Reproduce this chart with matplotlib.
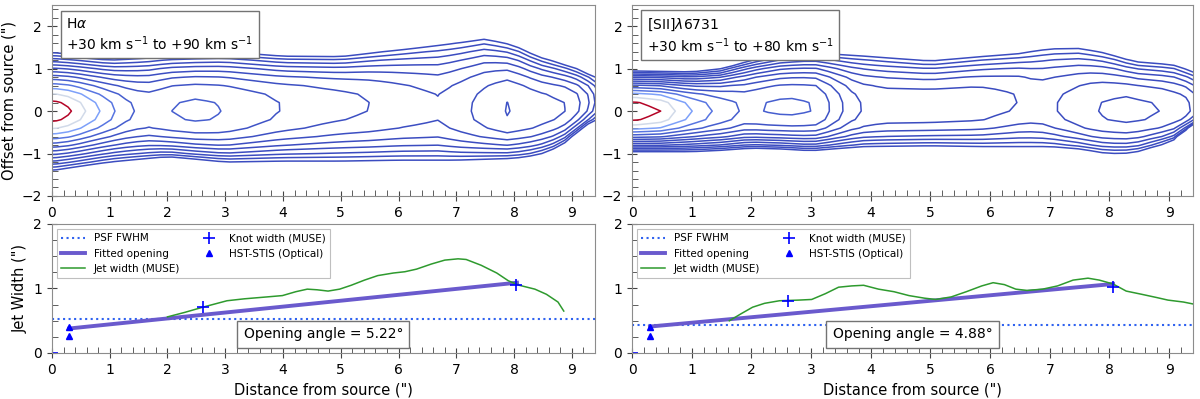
import matplotlib.pyplot as plt
import numpy as np
from matplotlib.ticker import MultipleLocator

# ---- H-alpha channel map: jet profile ----
# peak contour level along the jet axis (level 1 = outermost contour)
ha_axis_x = [0, 0.37, 0.57, 0.83, 1.09, 1.38, 1.7, 2.07, 2.5, 2.96, 3.94, 4.64, 5.5, 6.1, 6.7, 7.26, 7.88, 8.9, 9.19, 9.3, 9.4, 9.7]
ha_peak = [13.9, 13, 12, 11, 10, 9, 8.6, 9, 9.2, 9, 8, 7.5, 7, 6.5, 6.1, 7, 8.05, 7, 6, 5, 4, 1]
# outer contour edges, ridge centre and profile exponent
ha_edge_x = [0, 1, 2, 3, 4, 5, 6, 7, 7.5, 8, 8.4, 8.8, 9.15, 9.4, 9.8]
ha_top = [1.38, 1.27, 1.36, 1.40, 1.30, 1.29, 1.44, 1.6, 1.7, 1.55, 1.29, 1.13, 0.97, 0.8, 0.5]
ha_bot = [-1.40, -1.2, -1.08, -1.2, -1.18, -1.18, -1.16, -1.16, -1.14, -1.12, -1.04, -0.84, -0.45, -0.2, 0.0]
ha_mid = [0, 0, 0, 0, 0.1, 0.17, 0.12, 0, 0, 0, 0, 0.05, 0.15, 0.2, 0.2]
ha_expo = [1.6, 2.0, 2.5, 2.5, 2.5, 2.5, 2.5, 2.5, 2.5, 2.5, 2.5, 2.5, 2.5, 2.5, 2.5]

# ---- [SII] 6731 channel map ----
sii_axis_x = [0, 0.48, 0.72, 1.0, 1.33, 1.79, 1.95, 2.13, 2.6, 3.07, 3.31, 3.53, 3.78, 4.2, 5.0, 5.8, 6.46, 6.8, 7.13, 7.77, 8.3, 8.86, 9.2, 9.4, 9.7]
sii_peak = [14.8, 14, 13, 12, 11, 10, 9.7, 10, 10.2, 10, 9, 8, 7, 6.6, 6.6, 6.5, 6, 5.6, 6, 7, 7.3, 7, 6.5, 6.2, 3]
sii_edge_x = [0, 1, 1.5, 2, 2.5, 3, 3.9, 5, 5.85, 6.5, 7, 7.5, 7.96, 8.4, 9.05, 9.4, 9.8]
sii_top = [0.95, 0.93, 1.0, 1.2, 1.33, 1.38, 1.30, 1.18, 1.29, 1.36, 1.47, 1.48, 1.36, 1.17, 1.1, 0.93, 0.7]
sii_bot = [-0.96, -0.96, -0.93, -0.88, -0.9, -0.94, -0.84, -0.82, -0.84, -0.84, -0.84, -0.9, -1.0, -0.99, -0.72, -0.33, 0.0]
sii_mid = [0, 0, 0, 0.05, 0.07, 0.07, 0.05, 0.08, 0.15, 0.25, 0.1, 0, 0, 0, 0, 0, 0]
sii_expo = [2.0, 2.2, 2.4, 2.5, 2.5, 2.5, 2.5, 2.5, 2.5, 2.5, 2.5, 2.5, 2.5, 2.5, 2.5, 2.5, 2.5]

# ---- jet width panels ----
ha_psf = 0.52
ha_fit_x = [0.3, 8.05]
ha_fit_w = [0.38, 1.09]
ha_knot_x = [0.0, 2.61, 8.04]
ha_knot_w = [0.0, 0.71, 1.05]
ha_hst_x = [0.3, 0.3]
ha_hst_w = [0.41, 0.27]
ha_jet_x = [2.0, 2.3, 2.61, 3.03, 3.33, 3.73, 3.99, 4.22, 4.42, 4.59, 4.78, 4.98, 5.18, 5.41, 5.64, 5.91,
            6.11, 6.31, 6.57, 6.8, 7.03, 7.17, 7.43, 7.7, 7.9, 8.09, 8.36, 8.56, 8.76, 8.86]
ha_jet_w = [0.56, 0.63, 0.71, 0.81, 0.84, 0.87, 0.89, 0.95, 0.99, 0.98, 0.96, 0.99, 1.05, 1.13, 1.2, 1.24,
            1.26, 1.30, 1.38, 1.44, 1.46, 1.45, 1.36, 1.24, 1.12, 1.05, 0.99, 0.91, 0.79, 0.65]
ha_angle = "Opening angle = 5.22°"

sii_psf = 0.43
sii_fit_x = [0.3, 8.06]
sii_fit_w = [0.41, 1.07]
sii_knot_x = [0.0, 2.61, 8.06]
sii_knot_w = [0.0, 0.805, 1.02]
sii_hst_x = [0.3, 0.3]
sii_hst_w = [0.41, 0.26]
sii_jet_x = [1.63, 1.83, 2.02, 2.22, 2.47, 2.79, 3.01, 3.24, 3.46, 3.68, 3.88, 4.13, 4.39, 4.64, 4.9, 5.09,
             5.35, 5.6, 5.86, 6.05, 6.24, 6.43, 6.62, 6.88, 7.13, 7.39, 7.64, 7.83, 8.06, 8.28, 8.54, 8.79,
             8.98, 9.24, 9.4]
sii_jet_w = [0.5, 0.61, 0.71, 0.77, 0.81, 0.82, 0.83, 0.92, 1.02, 1.04, 1.05, 0.99, 0.95, 0.89, 0.85, 0.83,
             0.87, 0.95, 1.04, 1.09, 1.06, 0.99, 0.97, 0.99, 1.04, 1.13, 1.16, 1.13, 1.07, 0.96, 0.91, 0.86,
             0.82, 0.79, 0.76]
sii_angle = "Opening angle = 4.88°"

ha_title = "H$\\alpha$\n+30 km s$^{-1}$ to +90 km s$^{-1}$"
sii_title = "[SII]$\\lambda$6731\n+30 km s$^{-1}$ to +80 km s$^{-1}$"

SPINE = '#8c8c8c'


def jet_map(axis_x, peak, edge_x, top, bot, mid, expo):
    # coarse 0.2" grid, like the MUSE spaxels
    xg = np.arange(-0.12, 9.9, 0.2)
    yg = np.arange(-2.0, 2.61, 0.2)
    P = np.interp(xg, axis_x, peak)
    t = np.interp(xg, edge_x, top)
    b = np.interp(xg, edge_x, bot)
    c = np.interp(xg, edge_x, mid)
    p = np.interp(xg, edge_x, expo)
    X, Y = np.meshgrid(xg, yg)
    d = np.where(Y >= c, (Y - c) / (t - c), (c - Y) / (c - b))
    g = d ** p
    F = P - np.maximum(P - 1, 0.3) * g
    return X, Y, F


def style(ax, ymaj, ymin):
    for s in ax.spines.values():
        s.set_color(SPINE)
    ax.xaxis.set_major_locator(MultipleLocator(1))
    ax.xaxis.set_minor_locator(MultipleLocator(0.2))
    ax.yaxis.set_major_locator(MultipleLocator(ymaj))
    ax.yaxis.set_minor_locator(MultipleLocator(ymin))
    ax.tick_params(which='major', direction='inout', length=7, labelsize=10, color='#444444')
    ax.tick_params(which='minor', direction='in', length=4, color='#444444')
    ax.set_xlim(0, 9.4)


def draw_map(ax, X, Y, F, nlev, title):
    levels = np.arange(1, nlev + 1)
    inten = 2.2 ** levels
    frac = (inten - inten[0]) / (inten[-1] - inten[0])
    cols = plt.cm.coolwarm(frac)
    ax.contour(X, Y, F, levels=levels, colors=cols, linewidths=1.1)
    ax.set_ylim(-2, 2.5)
    style(ax, 1, 0.2)
    ax.text(0.25, 2.22, title, fontsize=10, va='top', ha='left',
            bbox=dict(boxstyle='square,pad=0.4', fc='white', ec='0.45', lw=1))


def draw_width(ax, psf, fx, fw, kx, kw, hx, hw, jx, jw, angle):
    ax.axhline(psf, color='#2f62f0', ls=':', lw=1.5, label='PSF FWHM')
    ax.plot(fx, fw, color='#6a5acd', lw=2.8, label='Fitted opening')
    ax.plot(jx, jw, color='#2e9a2e', lw=1.1, label='Jet width (MUSE)')
    ax.plot(kx, kw, '+', color='blue', ms=8, mew=1.2, ls='none', label='Knot width (MUSE)')
    ax.plot(hx, hw, '^', color='blue', ms=5, ls='none', label='HST-STIS (Optical)')
    ax.set_ylim(0, 2)
    style(ax, 1, 0.25)
    ax.set_xlabel('Distance from source (")', fontsize=10.5)
    leg = ax.legend(loc='upper left', ncol=2, fontsize=7.5, fancybox=False,
                    edgecolor='0.75', framealpha=1, columnspacing=1.6, handlelength=2.3,
                    borderaxespad=0.5)
    leg.get_frame().set_linewidth(0.8)
    ax.text(0.5, 0.145, angle, transform=ax.transAxes, fontsize=10, ha='center', va='center',
            bbox=dict(boxstyle='square,pad=0.45', fc='white', ec='0.45', lw=1))


fig = plt.figure(figsize=(12, 3.99), dpi=100)
ax1 = fig.add_axes([0.0433, 0.5088, 0.4525, 0.4787])
ax2 = fig.add_axes([0.5267, 0.5088, 0.4675, 0.4787])
ax3 = fig.add_axes([0.0433, 0.1153, 0.4525, 0.3233])
ax4 = fig.add_axes([0.5267, 0.1153, 0.4675, 0.3233])

X, Y, F = jet_map(ha_axis_x, ha_peak, ha_edge_x, ha_top, ha_bot, ha_mid, ha_expo)
draw_map(ax1, X, Y, F, 13, ha_title)
ax1.set_ylabel('Offset from source (")', fontsize=10.5)

X, Y, F = jet_map(sii_axis_x, sii_peak, sii_edge_x, sii_top, sii_bot, sii_mid, sii_expo)
draw_map(ax2, X, Y, F, 14, sii_title)

draw_width(ax3, ha_psf, ha_fit_x, ha_fit_w, ha_knot_x, ha_knot_w, ha_hst_x, ha_hst_w,
           ha_jet_x, ha_jet_w, ha_angle)
ax3.set_ylabel('Jet Width (")', fontsize=10.5)
draw_width(ax4, sii_psf, sii_fit_x, sii_fit_w, sii_knot_x, sii_knot_w, sii_hst_x, sii_hst_w,
           sii_jet_x, sii_jet_w, sii_angle)

fig.savefig('out.png', dpi=100)
